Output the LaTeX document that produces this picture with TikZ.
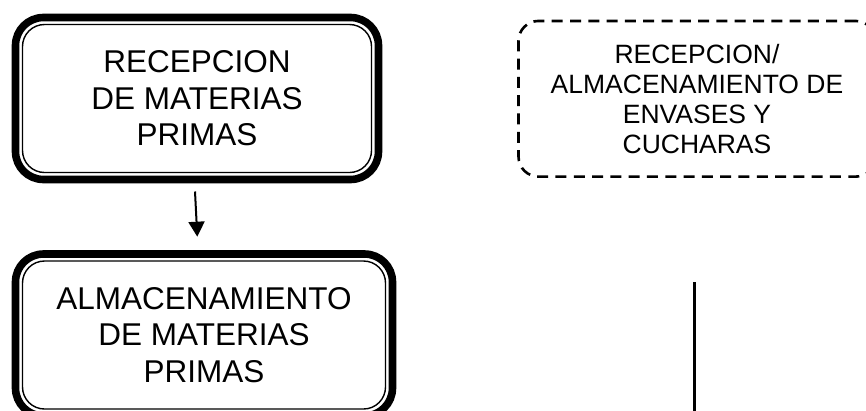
\documentclass[tikz,border=0pt]{standalone}
\usepackage{fontspec}
\setmainfont{Liberation Sans}
\usetikzlibrary{arrows.meta}
\begin{document}
\begin{tikzpicture}[x=1pt,y=-1pt,
  bigbox/.style={draw, line width=7.6pt, rounded corners=28pt, outer sep=0pt,
    align=center, inner sep=0pt, minimum height=162pt,
    font=\fontsize{31.5}{36.6}\selectfont},
  innerline/.style={draw, line width=1.4pt, rounded corners=22pt},
  dashbox/.style={draw, line width=2.6pt, dash pattern=on 11pt off 7.3pt,
    rounded corners=20pt, outer sep=0pt, align=center, inner sep=0pt,
    minimum width=357pt, minimum height=155.7pt,
    font=\fontsize{26.5}{30}\selectfont},
  arrowline/.style={line width=2pt, -{Triangle[width=16pt,length=15pt]}},
  plainline/.style={line width=2.2pt}]
\useasboundingbox (0,0) rectangle (866,410);
\clip (0,0) rectangle (866,410);
% boxes
\node[bigbox, minimum width=363pt] (b1) at (197,98.5)
  {RECEPCION\\DE MATERIAS\\PRIMAS};
\draw[innerline] ([xshift=7pt,yshift=-7pt]b1.north west) rectangle ([xshift=-7pt,yshift=7pt]b1.south east);
\node[bigbox, minimum width=377pt] (b2) at (204,335)
  {ALMACENAMIENTO\\DE MATERIAS\\PRIMAS};
\draw[innerline] ([xshift=7pt,yshift=-7pt]b2.north west) rectangle ([xshift=-7pt,yshift=7pt]b2.south east);
\node[dashbox] (b3) at (697,98.8)
  {RECEPCION/\\ALMACENAMIENTO DE\\ENVASES Y\\CUCHARAS};
% connectors
\draw[arrowline] ([xshift=-2pt,yshift=-12pt]b1.south) -- ([xshift=-6.7pt,yshift=17.3pt]b2.north);
\coordinate (vtop) at (694.5,282);
\coordinate (vbot) at (694.5,415);
\draw[plainline] (vtop) -- (vbot);
\end{tikzpicture}
\end{document}
